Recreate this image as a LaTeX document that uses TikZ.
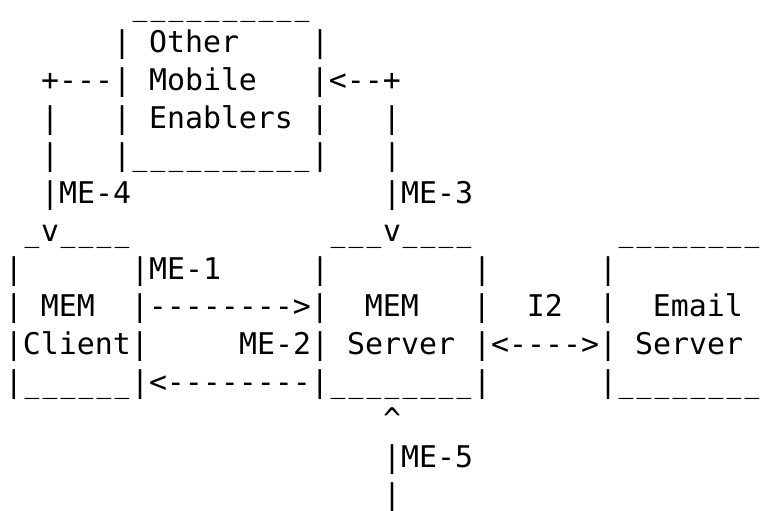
\documentclass[tikz,border=0pt]{standalone}
\usepackage{fontspec}
\setmonofont[Ligatures=TeXOff]{DejaVu Sans Mono}
\def\pitch{37.7}
\def\base{15.1}
% underscore with a small gap, as in the sketch
\newcommand\us{\makebox[0.602em]{\scalebox{0.82}[1]{\_}}}

\begin{document}
\begin{tikzpicture}[x=1pt,y=1pt,
	asciirow/.style={anchor=base west,inner sep=0pt,outer sep=0pt,
		font=\ttfamily\fontsize{29.9}{37.7}\selectfont}]
\fill[white] (0,0) rectangle (763,-511);
\useasboundingbox (0,0) rectangle (763,-511);
\frenchspacing
% one node for each line of the sketch
\node[asciirow] (row0) at (5,{-\base}) {~~~~~~~\us\us\us\us\us\us\us\us\us\us};
\node[asciirow] (row1) at (5,{-\base-\pitch}) {~~~~~~|~Other~~~~|};
\node[asciirow] (row2) at (5,{-\base-2*\pitch}) {~~+---|~Mobile~~~|<--+};
\node[asciirow] (row3) at (5,{-\base-3*\pitch}) {~~|~~~|~Enablers~|~~~|};
\node[asciirow] (row4) at (5,{-\base-4*\pitch}) {~~|~~~|\us\us\us\us\us\us\us\us\us\us|~~~|};
\node[asciirow] (row5) at (5,{-\base-5*\pitch}) {~~|ME-4~~~~~~~~~~~~~~|ME-3};
\node[asciirow] (row6) at (5,{-\base-6*\pitch}) {~\us v\us\us\us\us~~~~~~~~~~~\us\us\us v\us\us\us\us~~~~~~~~\us\us\us\us\us\us\us\us};
\node[asciirow] (row7) at (5,{-\base-7*\pitch}) {|~~~~~~|ME-1~~~~~|~~~~~~~~|~~~~~~|};
\node[asciirow] (row8) at (5,{-\base-8*\pitch}) {|~MEM~~|-------->|~~MEM~~~|~~I2~~|~~Email};
\node[asciirow] (row9) at (5,{-\base-9*\pitch}) {|Client|~~~~~ME-2|~Server~|<---->|~Server};
\node[asciirow] (row10) at (5,{-\base-10*\pitch}) {|\us\us\us\us\us\us|<--------|\us\us\us\us\us\us\us\us|~~~~~~|\us\us\us\us\us\us\us\us};
\node[asciirow] (row11) at (5,{-\base-11*\pitch}) {~~~~~~~~~~~~~~~~~~~~~\textasciicircum};
\node[asciirow] (row12) at (5,{-\base-12*\pitch}) {~~~~~~~~~~~~~~~~~~~~~|ME-5};
\node[asciirow] (row13) at (5,{-\base-13*\pitch}) {~~~~~~~~~~~~~~~~~~~~~|};
\end{tikzpicture}
\end{document}
